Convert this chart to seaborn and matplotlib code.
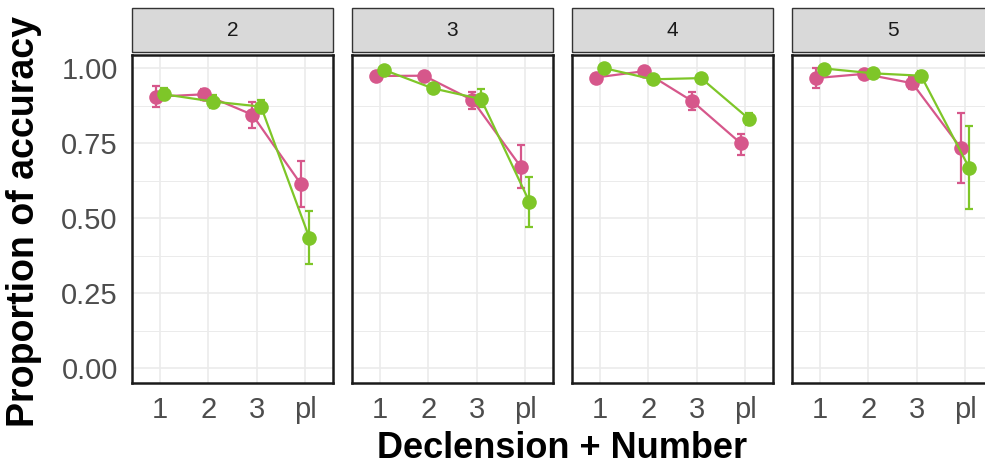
import pandas as pd
import matplotlib.pyplot as plt
from matplotlib.patches import Rectangle
from matplotlib.ticker import MultipleLocator
import seaborn as sns

# facets (declension) and x categories (number)
declensions = ['2', '3', '4', '5']
numbers = ['1', '2', '3', 'pl']
groups = ['pink', 'green']

# proportion of accuracy, one row per declension
pink_mean = [[0.905, 0.913, 0.845, 0.615],
             [0.974, 0.975, 0.894, 0.672],
             [0.969, 0.990, 0.890, 0.750],
             [0.967, 0.981, 0.950, 0.735]]
pink_lo = [[0.872, 0.895, 0.800, 0.539],
           [0.962, 0.962, 0.865, 0.600],
           [0.958, 0.978, 0.860, 0.710],
           [0.934, 0.970, 0.930, 0.617]]
pink_hi = [[0.941, 0.930, 0.889, 0.691],
           [0.986, 0.988, 0.922, 0.744],
           [0.980, 1.000, 0.920, 0.780],
           [1.000, 0.990, 0.970, 0.852]]

green_mean = [[0.913, 0.889, 0.872, 0.435],
              [0.994, 0.933, 0.897, 0.555],
              [1.000, 0.963, 0.967, 0.830],
              [0.999, 0.983, 0.975, 0.667]]
green_lo = [[0.893, 0.868, 0.850, 0.347],
            [0.988, 0.920, 0.870, 0.472],
            [0.995, 0.950, 0.955, 0.810],
            [0.995, 0.970, 0.960, 0.530]]
green_hi = [[0.933, 0.910, 0.894, 0.524],
            [1.000, 0.946, 0.930, 0.639],
            [1.000, 0.975, 0.978, 0.850],
            [1.000, 0.995, 0.990, 0.808]]

palette = {'pink': '#D6578B', 'green': '#7EC628'}
dodge = {'pink': -0.09, 'green': 0.09}

# long table
rows = []
for g, means, los, his in [('pink', pink_mean, pink_lo, pink_hi),
                           ('green', green_mean, green_lo, green_hi)]:
    for i, d in enumerate(declensions):
        for j, n in enumerate(numbers):
            rows.append({'declension': d, 'number': n, 'group': g,
                         'xpos': j + dodge[g], 'acc': means[i][j],
                         'lo': los[i][j], 'hi': his[i][j]})
df = pd.DataFrame(rows)

sns.set_style("white")
plt.rcParams['font.family'] = ['Liberation Sans', 'DejaVu Sans']

W, H = 985, 465
fig = plt.figure(figsize=(W / 100, H / 100), dpi=100)

panel_left = 131.7
panel_w = 201.6
panel_step = 220.0
panel_top = 55
panel_bot = 383
ph = panel_bot - panel_top

for i, d in enumerate(declensions):
    left = panel_left + i * panel_step
    ax = fig.add_axes([left / W, 1 - panel_bot / H, panel_w / W, ph / H])
    sub = df[df['declension'] == d]

    for g in groups:
        s = sub[sub['group'] == g]
        ax.errorbar(s['xpos'], s['acc'],
                    yerr=[s['acc'] - s['lo'], s['hi'] - s['acc']],
                    fmt='none', ecolor=palette[g], elinewidth=1.6,
                    capsize=3, capthick=1.6, zorder=3)

    sns.lineplot(data=sub, x='xpos', y='acc', hue='group', hue_order=groups,
                 palette=palette, estimator=None, marker='o', markersize=10.5,
                 markeredgewidth=0, linewidth=1.6, legend=False, ax=ax,
                 zorder=4)

    ax.set_xlim(-0.585, 3.585)
    ax.set_ylim(-0.049, 1.044)
    ax.set_xticks(range(len(numbers)))
    ax.set_xticklabels(numbers)
    ax.yaxis.set_major_locator(MultipleLocator(0.25))
    ax.yaxis.set_minor_locator(MultipleLocator(0.125))
    ax.grid(which='major', color='#EBEBEB', linewidth=1.2, zorder=0)
    ax.grid(which='minor', axis='y', color='#EBEBEB', linewidth=0.7, zorder=0)
    ax.set_axisbelow(True)
    ax.set_xlabel('')
    ax.set_ylabel('')

    for sp in ax.spines.values():
        sp.set_visible(True)
        sp.set_color('#1A1A1A')
        sp.set_linewidth(1.8)

    ax.tick_params(axis='x', which='major', length=5, width=1.1,
                   color='#333333', labelsize=21, labelcolor='#4D4D4D', pad=4)
    ax.tick_params(axis='y', which='minor', length=0)
    if i == 0:
        ax.yaxis.set_major_formatter(plt.FuncFormatter(lambda v, p: f'{v:.2f}'))
        ax.tick_params(axis='y', which='major', length=5, width=1.1,
                       color='#333333', labelsize=21, labelcolor='#4D4D4D', pad=5)
    else:
        ax.tick_params(axis='y', which='major', length=0, labelleft=False)

    # facet strip
    ax.add_patch(Rectangle((0, 1 + 3 / ph), 1, 44 / ph, transform=ax.transAxes,
                           facecolor='#D9D9D9', edgecolor='#333333',
                           linewidth=1.0, clip_on=False))
    ax.text(0.5, 1 + 25 / ph, d, transform=ax.transAxes, ha='center',
            va='center', fontsize=15, color='#1A1A1A')

fig.text(562 / W, 1 - 458 / H, 'Declension + Number', ha='center',
         va='baseline', fontsize=26, fontweight='bold', color='black')
fig.text(24 / W, 1 - 221 / H, 'Proportion of accuracy', ha='center',
         va='center', rotation=90, fontsize=27, fontweight='bold',
         color='black')

plt.savefig('out.png', dpi=100)
